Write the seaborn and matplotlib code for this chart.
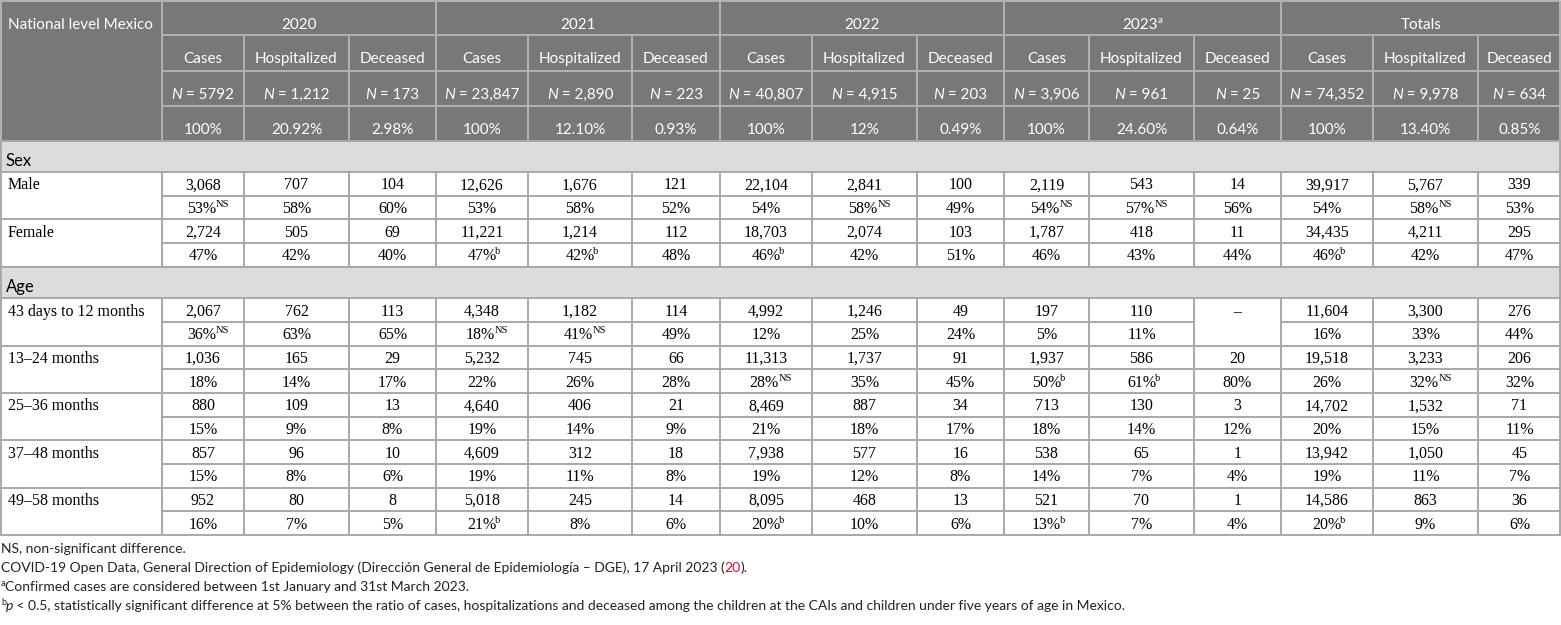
import matplotlib
matplotlib.use("Agg")
import matplotlib.pyplot as plt
from matplotlib.patches import Rectangle
import seaborn as sns

# ── data ────────────────────────────────────────────
corner_label = "National level Mexico"
years = ["2020", "2021", "2022", "2023", "Totals"]
year_marks = ["", "", "", "a", ""]
measures = ["Cases", "Hospitalized", "Deceased"]
n_totals = ["5792", "1,212", "173", "23,847", "2,890", "223", "40,807", "4,915", "203",
            "3,906", "961", "25", "74,352", "9,978", "634"]
pct_totals = ["100%", "20.92%", "2.98%", "100%", "12.10%", "0.93%", "100%", "12%", "0.49%",
              "100%", "24.60%", "0.64%", "100%", "13.40%", "0.85%"]

sex_title = "Sex"
sex_labels = ["Male", "Female"]
male_n = ["3,068", "707", "104", "12,626", "1,676", "121", "22,104", "2,841", "100",
          "2,119", "543", "14", "39,917", "5,767", "339"]
male_pct = ["53%NS", "58%", "60%", "53%", "58%", "52%", "54%", "58%NS", "49%",
            "54%NS", "57%NS", "56%", "54%", "58%NS", "53%"]
female_n = ["2,724", "505", "69", "11,221", "1,214", "112", "18,703", "2,074", "103",
            "1,787", "418", "11", "34,435", "4,211", "295"]
female_pct = ["47%", "42%", "40%", "47%b", "42%b", "48%", "46%b", "42%", "51%",
              "46%", "43%", "44%", "46%b", "42%", "47%"]

age_title = "Age"
age_labels = ["43 days to 12 months", "13\u201324 months", "25\u201336 months",
              "37\u201348 months", "49\u201358 months"]
age1_n = ["2,067", "762", "113", "4,348", "1,182", "114", "4,992", "1,246", "49",
          "197", "110", "\u2013", "11,604", "3,300", "276"]
age1_pct = ["36%NS", "63%", "65%", "18%NS", "41%NS", "49%", "12%", "25%", "24%",
            "5%", "11%", "", "16%", "33%", "44%"]
age2_n = ["1,036", "165", "29", "5,232", "745", "66", "11,313", "1,737", "91",
          "1,937", "586", "20", "19,518", "3,233", "206"]
age2_pct = ["18%", "14%", "17%", "22%", "26%", "28%", "28%NS", "35%", "45%",
            "50%b", "61%b", "80%", "26%", "32%NS", "32%"]
age3_n = ["880", "109", "13", "4,640", "406", "21", "8,469", "887", "34",
          "713", "130", "3", "14,702", "1,532", "71"]
age3_pct = ["15%", "9%", "8%", "19%", "14%", "9%", "21%", "18%", "17%",
            "18%", "14%", "12%", "20%", "15%", "11%"]
age4_n = ["857", "96", "10", "4,609", "312", "18", "7,938", "577", "16",
          "538", "65", "1", "13,942", "1,050", "45"]
age4_pct = ["15%", "8%", "6%", "19%", "11%", "8%", "19%", "12%", "8%",
            "14%", "7%", "4%", "19%", "11%", "7%"]
age5_n = ["952", "80", "8", "5,018", "245", "14", "8,095", "468", "13",
          "521", "70", "1", "14,586", "863", "36"]
age5_pct = ["16%", "7%", "5%", "21%b", "8%", "6%", "20%b", "10%", "6%",
            "13%b", "7%", "4%", "20%b", "9%", "6%"]

footnotes = [
    "NS, non-significant difference.",
    "COVID-19 Open Data, General Direction of Epidemiology (Direcci\u00f3n General de "
    "Epidemiolog\u00eda \u2013 DGE), 17 April 2023 (",
    "Confirmed cases are considered between 1st January and 31st March 2023.",
    " < 0.5, statistically significant difference at 5% between the ratio of cases, "
    "hospitalizations and deceased among the children at the CAIs and children under "
    "five years of age in Mexico.",
]
ref_number = "20"

# ── layout (pixels) ─────────────────────────────────
W, H = 1561, 625
col_x = [0, 162, 244, 349, 436, 528, 632, 720, 812, 917, 1004, 1089, 1194, 1281,
         1373, 1478, 1561]
head_y = [1, 35, 71, 106, 141]
sex_band = (141, 172)
sex_rows_top = 172
sex_step = 23.7
age_band = (267, 298)
age_rows_top = 298.3
age_step = 23.67

head_bg = "#787878"
head_line = "#b2b2b2"
band_bg = "#dcdcdc"
body_line = "#a8a8a8"
lw = 1.4

sns.set_theme(style="white")
plt.rcParams["font.family"] = ["Lato", "DejaVu Sans"]

fig = plt.figure(figsize=(W / 100, H / 100), dpi=100)
ax = fig.add_axes([0, 0, 1, 1])
ax.set_xlim(0, W)
ax.set_ylim(H, 0)
ax.axis("off")
renderer = fig.canvas.get_renderer()

SANS = ["Lato", "DejaVu Sans"]
SERIF = ["Liberation Serif", "DejaVu Serif"]


def runs_text(x, y, runs, ha="center"):
    """runs: list of (text, kwargs, dy[, dx]); placed side by side on one baseline."""
    objs, gaps = [], []
    for run in runs:
        s, kw, dy = run[:3]
        gaps.append(run[3] if len(run) > 3 else 0)
        objs.append(ax.text(0, y + dy, s, ha="left", va="baseline", **kw))
    widths = [t.get_window_extent(renderer).width for t in objs]
    total = sum(widths) + sum(gaps)
    start = x - total / 2 if ha == "center" else x
    for t, w, g in zip(objs, widths, gaps):
        start += g
        t.set_x(start)
        start += w
    return start


def split_mark(s):
    if "%" in s:
        i = s.index("%")
        return s[:i + 1], s[i + 1:]
    return s, ""


# ── header ──────────────────────────────────────────
ax.add_patch(Rectangle((0, head_y[0]), W, head_y[-1] - head_y[0], color=head_bg, lw=0))
hkw = dict(family=SANS, size=11, color="white")
runs_text(8, 29.3, [(corner_label, hkw, 0)], ha="left")
for g, (yr, mk) in enumerate(zip(years, year_marks)):
    x0, x1 = col_x[1 + 3 * g], col_x[4 + 3 * g]
    r = [(yr, hkw, 0)]
    if mk:
        r.append((mk, dict(family=SANS, size=7, color="white"), -6, 0.5))
    runs_text((x0 + x1) / 2, 29.3, r)
    ax.plot([x0, x0], [head_y[0], head_y[-1]], color=head_line, lw=lw)
for c in range(15):
    x0, x1 = col_x[c + 1], col_x[c + 2]
    xc = (x0 + x1) / 2
    runs_text(xc, 63.3, [(measures[c % 3], hkw, 0)])
    runs_text(xc, 99.3, [("N", dict(hkw, style="italic"), 0), (" = " + n_totals[c], hkw, 0)])
    runs_text(xc, 134.3, [(pct_totals[c], hkw, 0)])
    if c % 3:
        ax.plot([x0, x0], [head_y[1], head_y[-1]], color=head_line, lw=lw)
for yy in head_y[1:4]:
    ax.plot([col_x[1], W], [yy, yy], color=head_line, lw=lw)
ax.plot([0.7, W - 0.7, W - 0.7, 0.7, 0.7],
        [head_y[0], head_y[0], head_y[-1], head_y[-1], head_y[0]], color=head_line, lw=lw)

# ── body ────────────────────────────────────────────
bkw = dict(family=SERIF, size=11.5, color="black")
skw = dict(family=SERIF, size=7.5, color="black")


def band(y0, y1, title):
    ax.add_patch(Rectangle((0, y0), W, y1 - y0, color=band_bg, lw=0))
    ax.plot([0.7, W - 0.7, W - 0.7, 0.7, 0.7], [y0, y0, y1, y1, y0], color=body_line, lw=lw)
    runs_text(6, y1 - 6, [(title, dict(family=SANS, size=12, color="black"), 0)], ha="left")


def group(top, step, label, counts, pcts):
    mid, bot = top + step, top + 2 * step
    runs_text(8, top + 17.4, [(label, bkw, 0)], ha="left")
    for c in range(15):
        x0, x1 = col_x[c + 1], col_x[c + 2]
        xc = (x0 + x1) / 2
        runs_text(xc, top + 17.4, [(counts[c], bkw, 0)])
        if pcts[c]:
            base, mk = split_mark(pcts[c])
            r = [(base, bkw, 0)]
            if mk:
                r.append((mk, skw, -6, -1.5 if mk == "b" else 0))
            runs_text(xc + (5 if mk == "NS" else 2 if mk else 0), mid + 17.4, r)
            ax.plot([x0, x1], [mid, mid], color=body_line, lw=lw)
    for x in col_x[1:-1]:
        ax.plot([x, x], [top, bot], color=body_line, lw=lw)
    ax.plot([0.7, 0.7], [top, bot], color=body_line, lw=lw)
    ax.plot([W - 0.7, W - 0.7], [top, bot], color=body_line, lw=lw)
    ax.plot([0, W], [bot, bot], color=body_line, lw=lw)


band(*sex_band, sex_title)
for i, (lab, cnt, pct) in enumerate(zip(sex_labels, [male_n, female_n], [male_pct, female_pct])):
    group(sex_rows_top + 2 * i * sex_step, sex_step, lab, cnt, pct)

band(*age_band, age_title)
age_counts = [age1_n, age2_n, age3_n, age4_n, age5_n]
age_pcts = [age1_pct, age2_pct, age3_pct, age4_pct, age5_pct]
for i, (lab, cnt, pct) in enumerate(zip(age_labels, age_counts, age_pcts)):
    group(age_rows_top + 2 * i * age_step, age_step, lab, cnt, pct)

# ── footnotes ───────────────────────────────────────
fkw = dict(family=SANS, size=10, color="#222222")
fsup = dict(family=SANS, size=6.5, color="#222222")
base_y = [553, 572, 591, 610]
runs_text(1, base_y[0], [(footnotes[0], fkw, 0)], ha="left")
runs_text(1, base_y[1], [(footnotes[1], fkw, 0), (ref_number, dict(fkw, color="#c8102e"), 0),
                         (").", fkw, 0)], ha="left")
runs_text(1, base_y[2], [("a", fsup, -5), (footnotes[2], fkw, 0)], ha="left")
runs_text(1, base_y[3], [("b", fsup, -5), ("p", dict(fkw, style="italic"), 0),
                         (footnotes[3], fkw, 0)], ha="left")

fig.savefig("out.png", dpi=100)
